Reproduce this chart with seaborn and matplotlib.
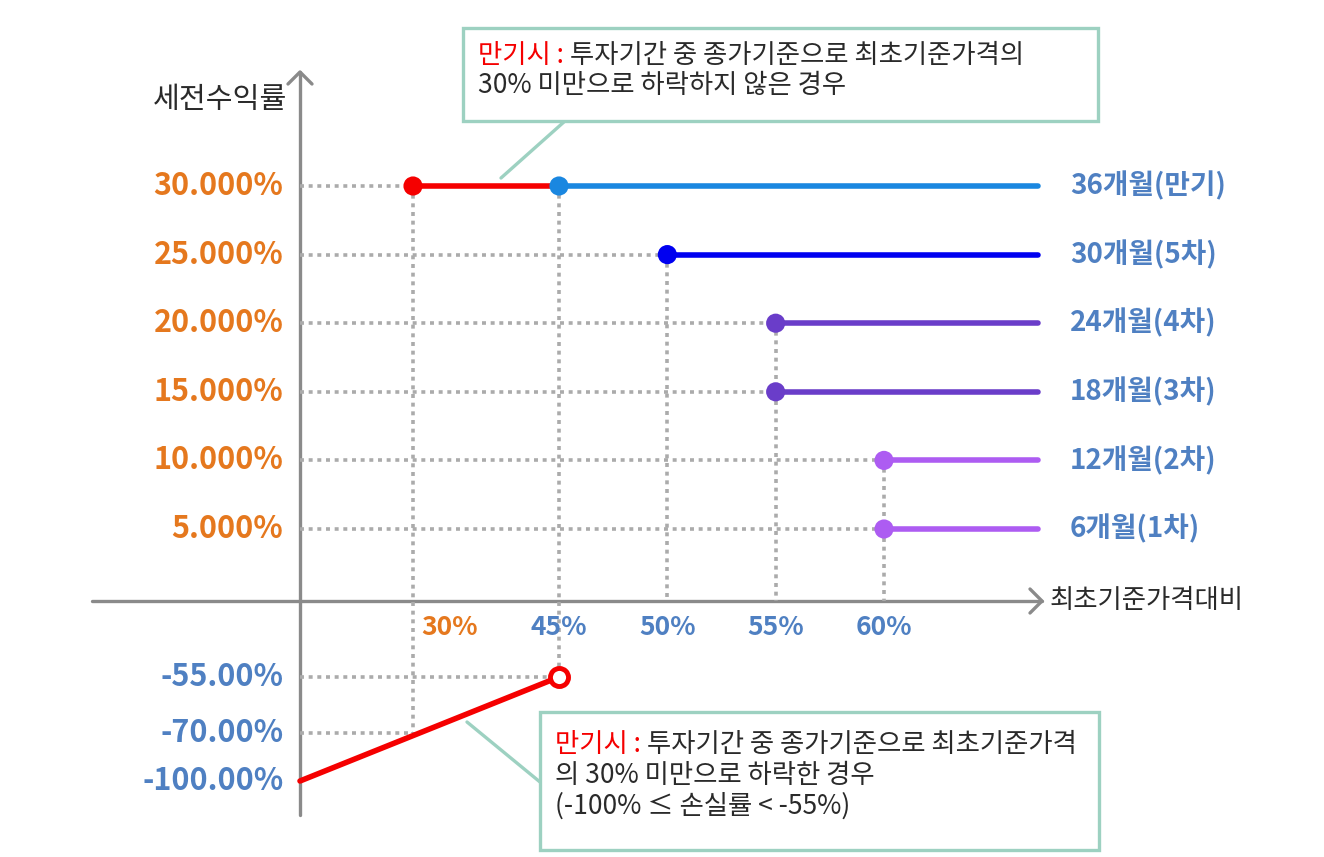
import numpy as np
import pandas as pd
import matplotlib
matplotlib.use("Agg")
import matplotlib.pyplot as plt
from matplotlib.patches import Rectangle
import seaborn as sns

# ---- data ----
periods = ["6개월(1차)", "12개월(2차)", "18개월(3차)", "24개월(4차)", "30개월(5차)", "36개월(만기)"]
barriers = [60, 60, 55, 55, 50, 45]          # % of initial price
coupons = [5, 10, 15, 20, 25, 30]            # pre-tax return %
period_colors = ["#AD5CF2", "#AD5CF2", "#6A3DC9", "#6A3DC9", "#0000F0", "#1A87E0"]

ki_x = [30, 45]          # maturity, not knocked in
ki_y = [30, 30]
loss_x = [0, 45]         # maturity, knocked in
loss_y = [-100, -55]

x_ticks = [30, 45, 50, 55, 60]
y_ticks_pos = [30, 25, 20, 15, 10, 5]
y_ticks_neg = [-55, -70, -100]

# ---- layout (pixel knots of the hand drawn axes) ----
W, H = 1324, 857
X_KNOTS = ([0, 30, 45, 60], [300, 413, 559, 884])
Y_KNOTS = ([-100, -70, -55, 0, 5, 30], [781, 733, 677, 601, 529, 186])
LINE_END_PX = 1038
RED = "#F50000"
ORANGE = "#E5781E"
BLUE_TXT = "#4F80C2"
GRID = "#ABABAB"
BOX = "#9DD1C1"
AXIS = "#8A8A8A"
TXT = "#2A2A2A"


def make_map(xs, ys):
    xs = np.asarray(xs, float)
    ys = np.asarray(ys, float)

    def f(v):
        v = np.asarray(v, float)
        out = np.interp(v, xs, ys)
        lo = ys[0] + (v - xs[0]) * (ys[1] - ys[0]) / (xs[1] - xs[0])
        hi = ys[-1] + (v - xs[-1]) * (ys[-1] - ys[-2]) / (xs[-1] - xs[-2])
        return np.where(v < xs[0], lo, np.where(v > xs[-1], hi, out))
    return f


x_fwd = make_map(X_KNOTS[0], X_KNOTS[1])
x_inv = make_map(X_KNOTS[1], X_KNOTS[0])
neg_px = [-p for p in Y_KNOTS[1]]
y_fwd = make_map(Y_KNOTS[0], neg_px)
y_inv = make_map(neg_px, Y_KNOTS[0])

sns.set_theme(style="white")
plt.rcParams["font.family"] = ["Noto Sans CJK KR", "DejaVu Sans"]

fig = plt.figure(figsize=(W / 100, H / 100), dpi=100)
deco = fig.add_axes([0, 0, 1, 1])
deco.set_xlim(0, W)
deco.set_ylim(H, 0)
deco.set_axis_off()

ax = fig.add_axes([0, 0, 1, 1], zorder=2)
ax.patch.set_alpha(0)
ax.set_xscale("function", functions=(x_fwd, x_inv))
ax.set_yscale("function", functions=(y_fwd, y_inv))
ax.set_xlim(float(x_inv(0)), float(x_inv(W)))
ax.set_ylim(float(y_inv(-H)), float(y_inv(0)))
ax.set_axis_off()

x_end = float(x_inv(LINE_END_PX))

# ---- axes with arrow heads ----
ax.axhline(0, xmin=92 / W, xmax=1042 / W, color=AXIS, lw=2.4, zorder=1)
ax.axvline(0, ymin=(H - 815) / H, ymax=(H - 72) / H, color=AXIS, lw=2.4, zorder=1)
deco.plot([288, 300, 312], [84, 72, 84], color=AXIS, lw=2.4, solid_capstyle="round")
deco.plot([1030, 1042, 1030], [589, 601, 613], color=AXIS, lw=2.4, solid_capstyle="round")

# ---- dotted guide lines ----
dots = dict(color=GRID, lw=2.6, linestyle=(0, (1.1, 1.3)), zorder=2)
for b, c in zip(barriers, coupons):
    left = min([b] + [x for x, y in zip(ki_x, ki_y) if y == c])
    ax.plot([0, left], [c, c], **dots)
for x in sorted(set(barriers) | set(ki_x)):
    top = max([c for b, c in zip(barriers, coupons) if b == x] +
              [y for xx, y in zip(ki_x, ki_y) if xx == x])
    bottom = float(np.interp(x, loss_x, loss_y)) if x <= max(loss_x) else 0
    ax.plot([x, x], [top, bottom], **dots)
for v in [-55, -70]:
    xv = float(np.interp(v, loss_y, loss_x))
    ax.plot([0, xv], [v, v], **dots)

# ---- payoff lines ----
seg = pd.DataFrame({
    "x": [v for b in barriers for v in (b, x_end)] + ki_x + loss_x,
    "y": [c for c in coupons for _ in range(2)] + ki_y + loss_y,
    "series": [p for p in periods for _ in range(2)] + ["ki"] * 2 + ["loss"] * 2,
})
palette = dict(zip(periods, period_colors))
palette.update({"ki": RED, "loss": RED})
sns.lineplot(data=seg, x="x", y="y", hue="series", palette=palette, units="series",
             estimator=None, sort=False, lw=4, legend=False, ax=ax, zorder=3)

pts = pd.DataFrame({"x": barriers + [ki_x[0]], "y": coupons + [ki_y[0]],
                    "series": periods + ["ki"]})
sns.scatterplot(data=pts, x="x", y="y", hue="series", palette=palette, s=190,
                linewidth=0, legend=False, ax=ax, zorder=4)
ax.plot(loss_x[-1], loss_y[-1], "o", ms=13, mfc="white", mec=RED, mew=3.5, zorder=5)

# ---- labels ----
for p, c in zip(periods, coupons):
    ax.annotate(p, (x_end, c), xytext=(23, 0), textcoords="offset points",
                ha="left", va="center", fontsize=20, fontweight="bold", color=BLUE_TXT)
for v in y_ticks_pos:
    ax.annotate(f"{v:.3f}%", (0, v), xytext=(-12, 0), textcoords="offset points",
                ha="right", va="center", fontsize=22, fontweight="bold", color=ORANGE)
for v in y_ticks_neg:
    ax.annotate(f"{v:.2f}%", (0, v), xytext=(-12, 0), textcoords="offset points",
                ha="right", va="center", fontsize=22, fontweight="bold", color=BLUE_TXT)
for v in x_ticks:
    shift = 26 if v == ki_x[0] else 0
    ax.annotate(f"{v}%", (v, 0), xytext=(shift, -19), textcoords="offset points",
                ha="center", va="center", fontsize=19, fontweight="bold",
                color=ORANGE if v == ki_x[0] else BLUE_TXT)

deco.text(287, 100, "세전수익률", ha="right", va="center", fontsize=21, color=TXT)
deco.text(1050, 600, "최초기준가격대비", ha="left", va="center", fontsize=19, color=TXT)


# ---- callout boxes ----
def callout(x0, y0, x1, y1, pad_top, lines, leader):
    deco.add_patch(Rectangle((x0, y0), x1 - x0, y1 - y0, fc="white", ec=BOX, lw=2.4, zorder=3))
    deco.plot(leader[0], leader[1], color=BOX, lw=2.4, zorder=2)
    tx, ty = x0 + 15, y0 + pad_top
    head = deco.text(tx, ty, "만기시 : ", ha="left", va="center", fontsize=19, color=RED, zorder=4)
    deco.annotate(lines[0], xy=(1, 0), xycoords=head, ha="left", va="bottom",
                  fontsize=19, color=TXT, zorder=4)
    for i, line in enumerate(lines[1:], start=1):
        deco.text(tx, ty + 30.5 * i, line, ha="left", va="center", fontsize=19,
                  color=TXT, zorder=4)


callout(463, 28, 1098, 121, 27,
        ["투자기간 중 종가기준으로 최초기준가격의", "30% 미만으로 하락하지 않은 경우"],
        ([565, 501], [121, 178]))
callout(540, 712, 1099, 850, 33,
        ["투자기간 중 종가기준으로 최초기준가격", "의 30% 미만으로 하락한 경우",
         "(-100% ≤ 손실률 < -55%)"],
        ([540, 467], [782, 722]))

fig.savefig("out.png", dpi=100)
